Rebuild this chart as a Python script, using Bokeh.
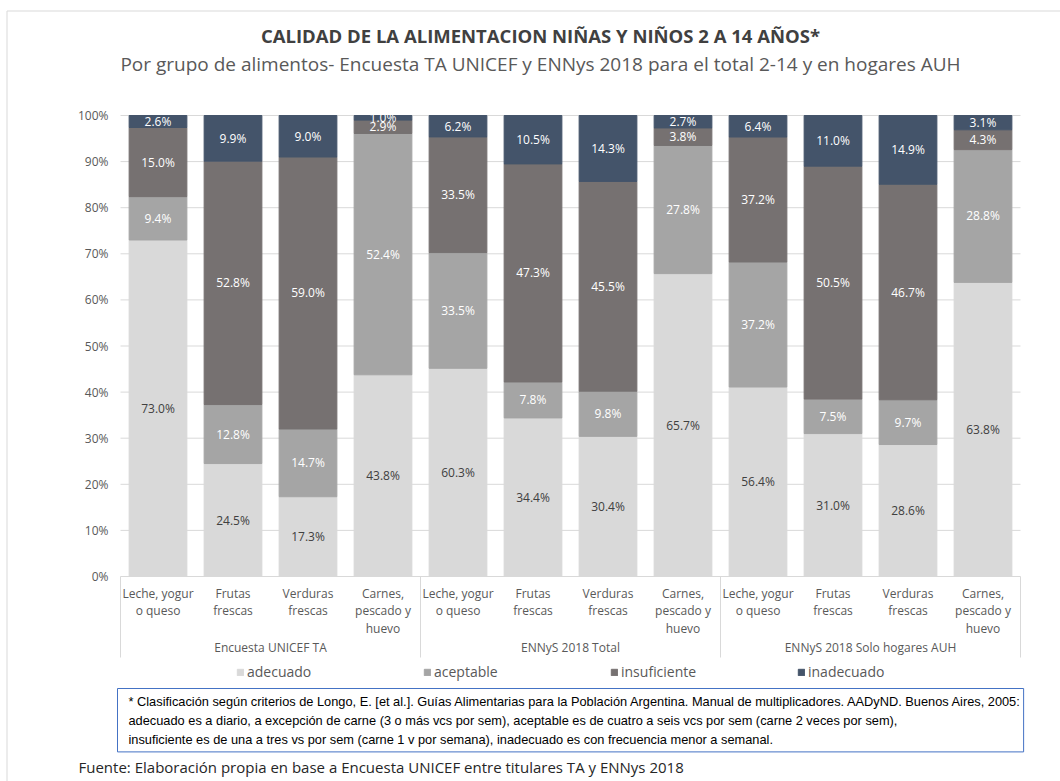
from bokeh.plotting import figure
from bokeh.models import ColumnDataSource, Range1d, Label, Legend, LegendItem
from bokeh.core.properties import value
from bokeh.embed import file_html
from bokeh.resources import INLINE

# ---------------- data ----------------
groups = ["Encuesta UNICEF TA", "ENNyS 2018 Total", "ENNyS 2018 Solo hogares AUH"]
foods = ["Leche, yogur\no queso", "Frutas\nfrescas", "Verduras\nfrescas", "Carnes,\npescado y\nhuevo"]
series_names = ["adecuado", "aceptable", "insuficiente", "inadecuado"]
adecuado = [73.0, 24.5, 17.3, 43.8, 60.3, 34.4, 30.4, 65.7, 56.4, 31.0, 28.6, 63.8]
aceptable = [9.4, 12.8, 14.7, 52.4, 33.5, 7.8, 9.8, 27.8, 37.2, 7.5, 9.7, 28.8]
insuficiente = [15.0, 52.8, 59.0, 2.9, 33.5, 47.3, 45.5, 3.8, 37.2, 50.5, 46.7, 4.3]
inadecuado = [2.6, 9.9, 9.0, 1.0, 6.2, 10.5, 14.3, 2.7, 6.4, 11.0, 14.9, 3.1]
yticks = [0, 10, 20, 30, 40, 50, 60, 70, 80, 90, 100]

title = "CALIDAD DE LA ALIMENTACION NIÑAS Y NIÑOS 2 A 14 AÑOS*"
subtitle = "Por grupo de alimentos- Encuesta TA UNICEF y ENNys 2018 para el total 2-14 y en hogares AUH"
footnote = ("* Clasificación según criterios de Longo, E. [et al.]. Guías Alimentarias para la Población Argentina. "
            "Manual de multiplicadores. AADyND. Buenos Aires, 2005:\n"
            "adecuado es a diario, a excepción de carne (3 o más vcs por sem), aceptable es de cuatro a seis vcs "
            "por sem (carne 2 veces por sem),\n"
            "insuficiente es de una a tres vs por sem (carne 1 v por semana), inadecuado es con frecuencia menor a semanal.")
source_note = "Fuente: Elaboración propia en base a Encuesta UNICEF entre titulares TA y ENNys 2018"

# ---------------- styles ----------------
colors = ["#D9D9D9", "#A5A5A5", "#767171", "#44546A"]
label_colors = ["#404040", "#FFFFFF", "#FFFFFF", "#FFFFFF"]
FONT = "Open Sans"
GRAY_TXT = "#595959"
LINE = "#D9D9D9"

W, H = 1060, 781
# plot area in canvas pixels: x 120..1020 (12 slots), y 115 (100%) .. 576 (0%)
PL, PR, PT, PB = 120, 1020, 115, 576
NSLOT = len(groups) * len(foods)


def dx(px):
    return (px - PL) / ((PR - PL) / float(NSLOT))


def dy(py):
    return (PB - py) / ((PB - PT) / 100.0)


p = figure(width=W, height=H, x_range=Range1d(dx(0), dx(W)), y_range=Range1d(dy(H), dy(0)),
           output_backend="svg", toolbar_location=None,
           x_axis_location=None, y_axis_location=None,
           min_border=0, min_border_left=0, min_border_right=0,
           min_border_top=0, min_border_bottom=0)
p.outline_line_color = None
p.background_fill_color = "white"
p.border_fill_color = "white"
p.xgrid.visible = False
p.ygrid.visible = False

# ---------------- grid + value axis (from the scale) ----------------
p.segment(x0=[0] * len(yticks), x1=[NSLOT] * len(yticks), y0=yticks, y1=yticks,
          line_color=LINE, line_width=1)
p.text(x=[dx(108)] * len(yticks), y=yticks, text=[f"{t}%" for t in yticks],
       text_align="right", text_baseline="middle", text_color=GRAY_TXT,
       text_font=value(FONT), text_font_size="12px")

# ---------------- bars ----------------
raw = [adecuado, aceptable, insuficiente, inadecuado]
n = len(adecuado)
xs = [i + 0.5 for i in range(n)]
totals = [sum(s[i] for s in raw) for i in range(n)]
data = {"x": xs}
for name, s in zip(series_names, raw):
    data[name] = [s[i] / totals[i] * 100.0 for i in range(n)]
src = ColumnDataSource(data)
renderers = p.vbar_stack(series_names, x="x", width=0.77, color=colors, source=src)

# segment labels
lx, ly, lt, lc = [], [], [], []
for i in range(n):
    base = 0.0
    for k, name in enumerate(series_names):
        h = data[name][i]
        lx.append(xs[i])
        ly.append(base + h / 2.0)
        lt.append(f"{raw[k][i]:.1f}%")
        lc.append(label_colors[k])
        base += h
lab_src = ColumnDataSource(dict(x=lx, y=ly, text=lt, color=lc))
p.text(x="x", y="y", text="text", text_color="color", source=lab_src,
       text_align="center", text_baseline="middle",
       text_font=value(FONT), text_font_size="12px")

# ---------------- category axis ----------------
cat_x, cat_t = [], []
for g in range(len(groups)):
    for f in range(len(foods)):
        cat_x.append(g * len(foods) + f + 0.5)
        cat_t.append(foods[f])
p.text(x=cat_x, y=[dy(584)] * len(cat_x), text=cat_t, text_align="center", text_baseline="top",
       text_font=value(FONT), text_font_size="12px", text_color=GRAY_TXT, text_line_height=1.04)
grp_x = [g * len(foods) + len(foods) / 2.0 for g in range(len(groups))]
p.text(x=grp_x, y=[dy(647)] * len(groups), text=groups, text_align="center", text_baseline="middle",
       text_font=value(FONT), text_font_size="12px", text_color=GRAY_TXT)
sep_x = [g * len(foods) for g in range(len(groups) + 1)]
p.segment(x0=sep_x, x1=sep_x, y0=[0] * len(sep_x), y1=[dy(657)] * len(sep_x),
          line_color=LINE, line_width=1)

# outer chart border (top and left edges visible)
p.segment(x0=[dx(6.5), dx(6.5)], x1=[dx(W), dx(6.5)], y0=[dy(10.5), dy(10.5)], y1=[dy(10.5), dy(H)],
          line_color=LINE, line_width=1)

# ---------------- titles ----------------
p.text(x=[dx(540)], y=[dy(35)], text=[title], text_align="center", text_baseline="middle",
       text_font=value(FONT), text_font_style="bold", text_font_size="18.5px", text_color="#404040")
p.text(x=[dx(540)], y=[dy(63)], text=[subtitle], text_align="center", text_baseline="middle",
       text_font=value(FONT), text_font_size="19px", text_color=GRAY_TXT)

# ---------------- legend ----------------
legend = Legend(items=[LegendItem(label=nm, renderers=[r]) for nm, r in zip(series_names, renderers)],
                orientation="horizontal", location=(236, H - 681),
                border_line_color=None, background_fill_alpha=0, padding=0, margin=0,
                spacing=6, glyph_width=8, glyph_height=8, label_standoff=3,
                label_width=170, label_height=16,
                label_text_font=FONT, label_text_font_size="14px", label_text_color=GRAY_TXT)
p.add_layout(legend)

# ---------------- footnote & source ----------------
p.add_layout(Label(x=dx(117), y=dy(688), text=footnote, text_align="left", text_baseline="top",
                   text_font="Liberation Sans", text_font_size="12.8px", text_color="#000000",
                   text_line_height=1.28, border_line_color="#4472C4", border_line_width=1,
                   background_fill_color="white", padding=(11, 1, 5, 5)))
p.text(x=[dx(78)], y=[dy(766)], text=[source_note], text_align="left", text_baseline="middle",
       text_font=value(FONT), text_font_size="15px", text_color="#262626")

open("out.html", "w").write(file_html(p, INLINE))
